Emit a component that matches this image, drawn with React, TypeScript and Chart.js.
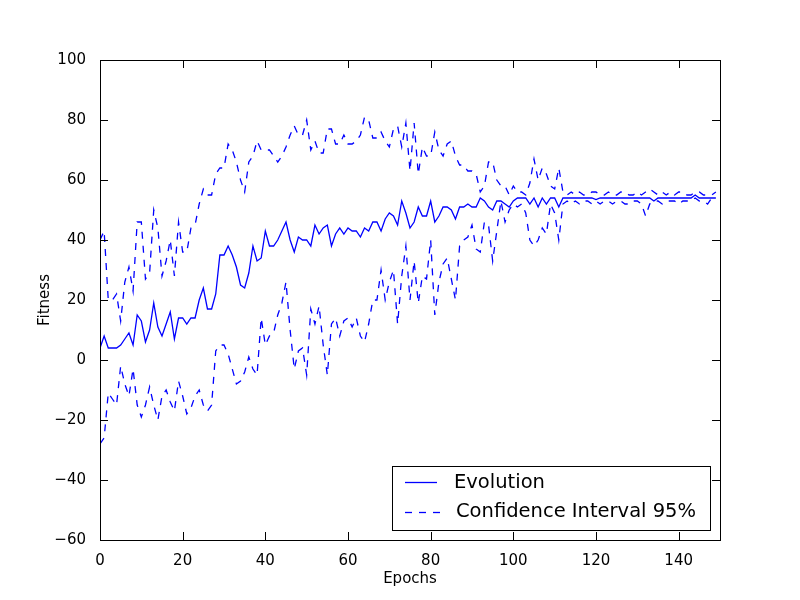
import React, { useEffect, useRef } from "react";
import { Chart, registerables } from "chart.js";
Chart.register(...registerables);

const meanVals = [4,8,4,4,4,5,7,9,5,15,13,6,10,19,11,8,12,16,7,14,14,12,14,14,20,24,17,17,22,35,35,38,35,31,25,24,29,38,33,34,43,38,38,40,43,46,40,36,41,40,40,38,45,42,44,45,38,42,44,42,44,43,43,41,44,43,46,46,43,47,49,48,45,53,49,44,46,51,48,48,53,46,48,51,51,50,47,51,51,52,51,51,54,53,51,50,53,53,52,51,53,54,54,54,52,54,51,54,52,54,54,51,54,54,54,54,54,54,54,54,53.5,54,54,54,54,54,54,54,54,54,54,54,54,54,53,54,54,54,54,54,54,54,54,54,55,54,54,54,54,54];
const upperVals = [40,43,20,20,22,13,26,31,23,46,46,27,29,50,44,28,33,40,28,46,36,36,44,45,52,57,55,55,62,64,64,72,70,66,60,56,66,68,73,70,70,70,68,66,68,71,75,78,75,75,80,70,73,69,69,77,77,72,72,75,72,72,73,75,81,80,74,74,76,73,71,77,78,71,79,63,79,62,71,68,68,76,70,68,72,73,68,65,65,63,63,62,56,58,66,66,60,58,58,55,58,56,56,55,59,67,60,64,62,58,57,64,56,55,56,55,56,55,55,56,56,55,55,56,55,55,56,56,55,55,56,55,56,57,56,55,56,55,56,55,56,56,55,55,56,56,55,55,55,56];
const lowerVals = [-28,-26,-11,-13,-15,-2,-8,-12,-3,-15,-19,-15,-9,-15,-20,-12,-10,-14,-17,-7,-12,-18,-16,-12,-10,-15,-17,-15,3,5,5,2,-3,-8,-7,-4,1,-3,-5,14,5,8,9,15,19,26,10,-3,3,4,-5,17,12,18,5,-5,12,14,8,13,14,11,14,8,6,12,20,20,30,20,26,30,12,28,38,20,33,19,28,27,40,15,26,32,34,27,20,38,40,41,45,37,36,46,45,33,43,53,46,50,52,51,52,49,40,38,40,44,42,52,49,40,52,53,52,53,52,53,53,52,53,52,53,53,52,53,53,52,52,53,53,52,48,52,53,53,52,53,53,53,52,53,53,53,54,53,53,52,54];

const toPts = (a: number[]) => a.map((y, x) => ({ x, y }));
const FONT = "'DejaVu Sans', sans-serif";
const DASH = [7, 7];

const ticksPlugin = {
  id: "inTicks",
  afterDraw(chart: any) {
    const { ctx, chartArea: a, scales } = chart;
    ctx.save();
    ctx.strokeStyle = "#000";
    ctx.lineWidth = 1;
    ctx.beginPath();
    for (let v = 0; v <= 150; v += 20) {
      const px = Math.round(scales.x.getPixelForValue(v)) + 0.5;
      ctx.moveTo(px, a.bottom); ctx.lineTo(px, a.bottom - 8);
      ctx.moveTo(px, a.top); ctx.lineTo(px, a.top + 8);
    }
    for (let v = -60; v <= 100; v += 20) {
      const py = Math.round(scales.y.getPixelForValue(v)) + 0.5;
      ctx.moveTo(a.left, py); ctx.lineTo(a.left + 8, py);
      ctx.moveTo(a.right, py); ctx.lineTo(a.right - 8, py);
    }
    ctx.stroke();
    ctx.strokeRect(a.left + 0.5, a.top + 0.5, a.right - a.left, a.bottom - a.top);
    const lx = 392, ly = 466, lw = 318, lh = 64;
    ctx.fillStyle = "#fff";
    ctx.fillRect(lx, ly, lw, lh);
    ctx.strokeRect(lx + 0.5, ly + 0.5, lw, lh);
    ctx.strokeStyle = "blue";
    ctx.lineWidth = 1.3;
    ctx.beginPath(); ctx.moveTo(405, 482.5); ctx.lineTo(437, 482.5); ctx.stroke();
    ctx.setLineDash(DASH);
    ctx.beginPath(); ctx.moveTo(405, 512.5); ctx.lineTo(441, 512.5); ctx.stroke();
    ctx.setLineDash([]);
    ctx.fillStyle = "#000";
    ctx.font = "19.5px " + FONT;
    ctx.textBaseline = "middle";
    ctx.fillText("Evolution", 454, 483);
    ctx.fillText("Confidence Interval 95%", 456, 512);
    ctx.restore();
  },
};

export default function App() {
  const ref = useRef<HTMLCanvasElement>(null);
  useEffect(() => {
    const chart = new Chart(ref.current!, {
      type: "line",
      data: {
        datasets: [
          { data: toPts(meanVals), borderColor: "blue", borderWidth: 1.3, pointRadius: 0, tension: 0 },
          { data: toPts(upperVals), borderColor: "blue", borderWidth: 1.3, pointRadius: 0, borderDash: DASH, tension: 0 },
          { data: toPts(lowerVals), borderColor: "blue", borderWidth: 1.3, pointRadius: 0, borderDash: DASH, tension: 0 },
        ],
      },
      options: {
        animation: false,
        responsive: false,
        layout: { padding: { top: 60, right: 80, left: 36, bottom: 12 } },
        plugins: { legend: { display: false }, tooltip: { enabled: false } },
        scales: {
          x: {
            type: "linear", min: 0, max: 150,
            grid: { display: false }, border: { display: false },
            ticks: { stepSize: 20, color: "#000", font: { family: FONT, size: 15 }, maxRotation: 0, padding: 4,
              callback: (v: any) => (Number(v) % 20 === 0 ? String(v) : null) },
            title: { display: true, text: "Epochs", color: "#000", font: { family: FONT, size: 15 }, padding: 0 },
            afterFit: (s: any) => { s.height = 48; },
          },
          y: {
            min: -60, max: 100,
            grid: { display: false }, border: { display: false },
            ticks: { stepSize: 20, color: "#000", font: { family: FONT, size: 15 }, padding: 6,
              callback: (v: any) => (Number(v) < 0 ? "\u2212" + Math.abs(Number(v)) : String(v)) },
            title: { display: true, text: "Fitness", color: "#000", font: { family: FONT, size: 15 }, padding: 0 },
            afterFit: (s: any) => { s.width = 64; },
          },
        },
      },
      plugins: [ticksPlugin],
    });
    return () => chart.destroy();
  }, []);
  return (
    <div style={{ position: "fixed", left: 0, top: 0, width: 800, height: 600, background: "#fff" }}>
      <canvas ref={ref} width={800} height={600} style={{ width: 800, height: 600 }} />
    </div>
  );
}
